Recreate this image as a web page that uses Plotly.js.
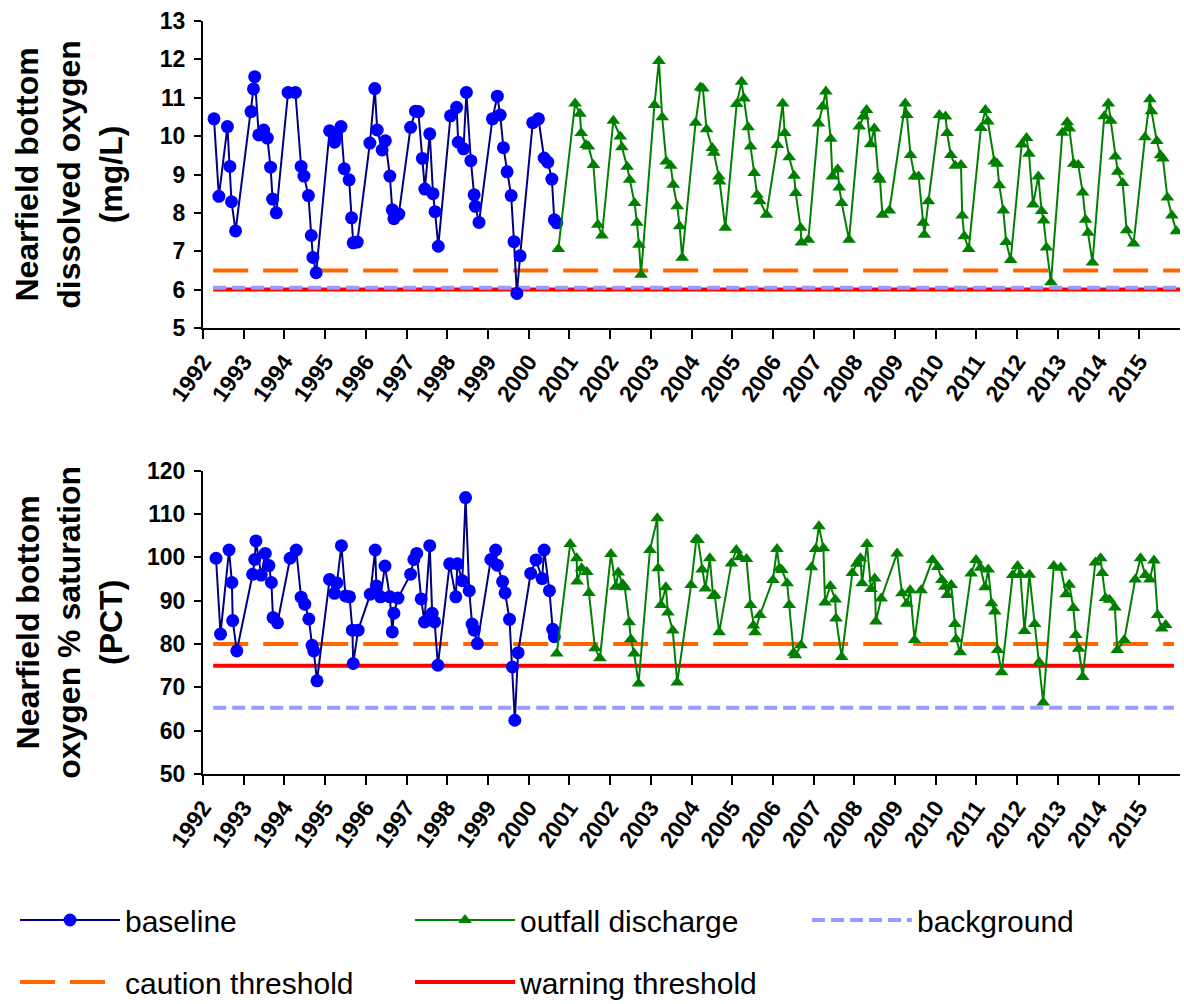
<!DOCTYPE html>
<html>
<head>
<meta charset="utf-8">
<script src="https://cdn.plot.ly/plotly-3.0.1.min.js"></script>
<style>html,body{margin:0;padding:0;background:#fff;}#chart{width:1184px;height:1004px;}</style>
</head>
<body>
<div id="chart"></div>
<script>
// ---- Tick labels ----
const yearTicks = [1992,1993,1994,1995,1996,1997,1998,1999,2000,2001,2002,2003,2004,2005,2006,2007,2008,2009,2010,2011,2012,2013,2014,2015];
const yearLabels = yearTicks.map(String);

// ---- Dissolved oxygen (mg/L): baseline ----
const doBaseDate = [1992.27,1992.39,1992.60,1992.66,1992.70,1992.80,1993.18,1993.24,1993.27,1993.37,1993.49,1993.58,1993.66,1993.71,1993.80,
1994.09,1994.27,1994.41,1994.48,1994.59,1994.66,1994.70,1994.78,1995.11,1995.23,1995.28,1995.39,1995.47,1995.59,1995.65,1995.69,1995.79,
1996.10,1996.22,1996.28,1996.40,1996.48,1996.59,1996.65,1996.69,1996.81,1997.10,1997.22,1997.29,1997.39,1997.45,1997.57,1997.65,1997.70,1997.78,
1998.08,1998.23,1998.27,1998.40,1998.47,1998.58,1998.66,1998.69,1998.78,1999.11,1999.23,1999.30,1999.38,1999.47,1999.57,1999.64,1999.71,1999.79,
2000.10,2000.24,2000.38,2000.47,2000.57,2000.63,2000.69];
const doBaseVal = [10.45,8.43,10.25,9.21,8.29,7.53,10.64,11.23,11.55,10.03,10.16,9.95,9.19,8.36,8.00,
11.14,11.14,9.21,8.96,8.45,7.41,6.84,6.44,10.14,9.84,10.00,10.25,9.15,8.86,7.87,7.22,7.24,
9.82,11.24,10.16,9.64,9.88,8.96,8.08,7.85,7.97,10.23,10.65,10.64,9.42,8.62,10.06,8.50,8.03,7.13,
10.53,10.75,9.84,9.67,11.14,9.36,8.47,8.17,7.75,10.45,11.04,10.55,9.70,9.07,8.45,7.25,5.90,6.88,
10.35,10.45,9.43,9.32,8.88,7.82,7.74];

// ---- Dissolved oxygen (mg/L): outfall discharge ----
const doOutDate = [2000.73,2001.14,2001.26,2001.29,2001.41,2001.47,2001.59,2001.70,2001.80,
2002.08,2002.25,2002.29,2002.42,2002.48,2002.60,2002.66,2002.71,2002.76,
2003.09,2003.20,2003.28,2003.38,2003.49,2003.55,2003.65,2003.71,2003.77,
2004.10,2004.22,2004.28,2004.37,2004.51,2004.55,2004.67,2004.69,2004.83,
2005.11,2005.23,2005.29,2005.39,2005.45,2005.54,2005.61,2005.68,2005.84,
2006.11,2006.24,2006.29,2006.40,2006.52,2006.56,2006.68,2006.70,2006.87,
2007.12,2007.22,2007.30,2007.42,2007.46,2007.59,2007.63,2007.69,2007.87,
2008.12,2008.22,2008.30,2008.40,2008.49,2008.59,2008.63,2008.69,2008.86,
2009.25,2009.29,2009.38,2009.48,2009.58,2009.69,2009.72,2009.82,
2010.09,2010.24,2010.28,2010.37,2010.48,2010.62,2010.65,2010.70,2010.81,
2011.11,2011.22,2011.28,2011.44,2011.51,2011.56,2011.66,2011.73,2011.84,
2012.11,2012.23,2012.29,2012.39,2012.52,2012.60,2012.65,2012.72,2012.83,
2013.11,2013.23,2013.28,2013.39,2013.50,2013.61,2013.68,2013.74,2013.85,
2014.14,2014.24,2014.30,2014.41,2014.47,2014.59,2014.69,2014.86,
2015.14,2015.26,2015.30,2015.43,2015.52,2015.58,2015.69,2015.80,2015.91];
const doOutVal = [7.06,10.85,10.58,10.08,9.77,9.73,9.25,7.69,7.41,
10.40,9.99,9.71,9.20,8.86,8.26,7.74,7.17,6.39,
10.81,11.96,10.49,9.34,9.23,8.73,8.17,7.65,6.83,
10.35,11.27,11.24,10.18,9.69,9.57,8.95,8.82,7.61,
10.84,11.42,10.98,10.23,9.73,9.04,8.47,8.30,7.95,
9.77,10.85,10.08,9.45,8.97,8.52,7.61,7.23,7.30,
10.33,10.77,11.16,9.93,8.95,9.14,8.66,8.26,7.30,
10.25,10.51,10.68,9.79,10.20,8.95,8.86,7.95,8.06,
10.85,10.55,9.51,8.95,8.95,7.74,7.43,8.30,
10.55,10.51,10.08,9.51,9.23,9.25,7.93,7.39,7.06,
10.21,10.68,10.38,9.34,9.28,8.72,8.06,7.24,6.77,
9.78,9.95,9.54,8.22,8.95,8.05,7.80,7.10,6.19,
10.09,10.36,10.20,9.28,9.25,8.53,7.82,7.48,6.71,
10.52,10.85,10.40,9.47,9.07,8.78,7.55,7.20,
9.97,10.96,10.65,9.87,9.50,9.42,8.40,7.93,7.52];

// ---- Oxygen % saturation: baseline ----
const satBaseDate = [1992.32,1992.43,1992.64,1992.71,1992.73,1992.83,1993.22,1993.27,1993.30,1993.43,1993.53,1993.62,1993.68,1993.72,1993.83,
1994.14,1994.29,1994.41,1994.50,1994.60,1994.68,1994.72,1994.80,1995.11,1995.23,1995.29,1995.40,1995.50,1995.60,1995.67,1995.69,1995.81,
1996.11,1996.23,1996.26,1996.36,1996.47,1996.59,1996.65,1996.69,1996.79,1997.10,1997.18,1997.25,1997.36,1997.44,1997.57,1997.63,1997.69,1997.77,
1998.06,1998.21,1998.25,1998.37,1998.45,1998.54,1998.61,1998.66,1998.74,1999.07,1999.19,1999.23,1999.36,1999.42,1999.53,1999.60,1999.66,1999.74,
2000.05,2000.18,2000.33,2000.38,2000.51,2000.59,2000.63];
const satBaseVal = [99.8,82.3,101.7,94.2,85.4,78.4,96.1,99.5,103.8,95.9,100.9,98.1,94.2,86.1,84.9,
99.8,101.7,90.8,89.2,85.8,79.7,78.4,71.5,94.9,91.7,94.1,102.7,91.1,90.9,83.2,75.5,83.2,
91.5,101.7,93.4,90.9,98.0,90.9,82.8,87.1,90.6,96.1,99.5,100.9,90.4,85.1,102.7,87.1,85.1,75.1,
98.5,90.9,98.5,94.6,113.8,92.3,84.6,83.2,80.1,99.5,101.7,98.2,94.4,91.8,85.7,74.7,62.4,78.0,
96.3,99.4,95.1,101.7,92.3,83.4,81.7];

// ---- Oxygen % saturation: outfall discharge ----
const satOutDate = [2000.69,2001.02,2001.18,2001.19,2001.30,2001.43,2001.48,2001.63,2001.75,
2002.02,2002.14,2002.20,2002.31,2002.36,2002.47,2002.51,2002.59,2002.70,
2002.98,2003.16,2003.18,2003.25,2003.37,2003.42,2003.54,2003.65,
2003.99,2004.12,2004.16,2004.26,2004.34,2004.45,2004.53,2004.57,2004.68,
2004.98,2005.10,2005.19,2005.35,2005.45,2005.52,2005.56,2005.68,
2006.00,2006.10,2006.16,2006.22,2006.35,2006.40,2006.51,2006.55,2006.69,
2006.95,2007.05,2007.13,2007.24,2007.28,2007.41,2007.53,2007.55,2007.69,
2007.95,2008.06,2008.15,2008.19,2008.31,2008.41,2008.50,2008.53,2008.66,
2009.05,2009.17,2009.29,2009.37,2009.48,2009.64,
2009.92,2010.05,2010.15,2010.22,2010.28,2010.38,2010.47,2010.50,2010.60,
2010.87,2010.99,2011.10,2011.21,2011.29,2011.37,2011.45,2011.52,2011.62,
2011.89,2012.01,2012.08,2012.18,2012.30,2012.43,2012.54,2012.64,
2012.90,2013.07,2013.20,2013.28,2013.38,2013.44,2013.51,2013.61,
2013.92,2014.05,2014.09,2014.17,2014.27,2014.40,2014.46,2014.63,
2014.90,2015.03,2015.15,2015.26,2015.36,2015.45,2015.55,2015.65];
const satOutVal = [77.8,103.1,99.8,94.4,97.5,96.6,91.8,79.0,76.7,
100.8,93.2,96.5,93.8,93.1,85.0,81.1,77.8,70.9,
101.7,109.0,97.5,89.0,93.1,87.3,83.1,71.1,
93.6,104.2,104.0,97.2,92.8,99.8,91.1,91.3,82.7,
98.6,101.7,100.0,99.6,89.0,84.3,82.7,86.7,
94.8,101.9,97.5,97.1,94.0,89.0,78.0,77.4,79.7,
97.7,101.9,107.2,102.1,89.6,93.4,90.3,85.9,77.0,
96.4,98.5,99.8,94.0,103.1,92.7,95.1,85.2,90.5,
100.9,91.7,89.3,92.4,80.9,92.4,
99.4,97.8,94.8,93.2,91.3,93.6,84.6,81.1,78.1,
96.3,99.4,97.6,93.1,97.2,89.4,87.5,78.6,73.5,
95.9,98.0,96.0,83.0,96.0,84.6,75.8,66.5,
98.0,97.6,91.5,93.7,88.3,82.1,78.9,72.4,
98.8,99.8,96.4,90.6,90.2,88.4,78.6,80.9,
94.9,99.8,95.9,94.9,99.3,86.7,83.6,84.4];

// ---- Thresholds ----
const doThreshDate = [1992.25, 2016.0];
const satThreshDate = [1992.25, 2015.85];
const doBackground = 6.05, doCaution = 6.5, doWarning = 6.0;
const satBackground = 65.3, satCaution = 80, satWarning = 75;

const FONT = "Liberation Sans, Arial, sans-serif";
const C_NAVY = '#000080', C_BLUE = '#0000FF', C_GREEN = '#008000';
const C_BG = '#9999FF', C_CAU = '#FF6600', C_WARN = '#FF0000';

function flat(dates, v){ return dates.map(()=>v); }

function panel(xa, ya, bDate, bVal, oDate, oVal, tDate, bg, cau, warn, legendOn){
  return [
    {x:tDate, y:flat(tDate,warn), xaxis:xa, yaxis:ya, mode:'lines', name:'warning threshold',
     line:{color:C_WARN,width:4}, showlegend:legendOn, legend:'legend5', hoverinfo:'skip'},
    {x:tDate, y:flat(tDate,bg), xaxis:xa, yaxis:ya, mode:'lines', name:'background',
     line:{color:C_BG,width:4,dash:'13px,6px'}, showlegend:legendOn, legend:'legend3', hoverinfo:'skip'},
    {x:tDate, y:flat(tDate,cau), xaxis:xa, yaxis:ya, mode:'lines', name:'caution threshold',
     line:{color:C_CAU,width:4,dash:'35px,15px'}, showlegend:legendOn, legend:'legend4', hoverinfo:'skip'},
    {x:bDate, y:bVal, xaxis:xa, yaxis:ya, mode:'lines+markers', name:'baseline',
     line:{color:C_NAVY,width:2}, marker:{symbol:'circle',size:13,color:C_BLUE},
     showlegend:legendOn, legend:'legend'},
    {x:oDate, y:oVal, xaxis:xa, yaxis:ya, mode:'lines+markers', name:'outfall discharge',
     line:{color:C_GREEN,width:2}, marker:{symbol:'triangle-up',size:12,color:C_GREEN},
     showlegend:legendOn, legend:'legend2'}
  ];
}

const data = [].concat(
  panel('x','y', doBaseDate, doBaseVal, doOutDate, doOutVal, doThreshDate, doBackground, doCaution, doWarning, true),
  panel('x2','y2', satBaseDate, satBaseVal, satOutDate, satOutVal, satThreshDate, satBackground, satCaution, satWarning, false)
);

function xAxis(anchor){
  return {anchor:anchor, range:[1992,2016], tickmode:'array', tickvals:yearTicks, ticktext:yearLabels,
    tickangle:-55, tickfont:{family:FONT,size:23,color:'#000',weight:'bold'},
    showline:true, linecolor:'#000', linewidth:2, ticks:'outside', ticklen:9, tickwidth:2, tickcolor:'#000',
    showgrid:false, zeroline:false, fixedrange:true};
}
function yAxis(anchor, domain, range, dtick, title, standoff){
  return {anchor:anchor, domain:domain, range:range, dtick:dtick, tick0:range[0],
    tickfont:{family:FONT,size:23,color:'#000',weight:'bold'},
    showline:true, linecolor:'#000', linewidth:2, ticks:'outside', ticklen:7, tickwidth:2, tickcolor:'#000',
    showgrid:false, zeroline:false, fixedrange:true, ticklabelstandoff:4,
    title:{text:title, font:{family:FONT,size:32,color:'#000',weight:'bold'}, standoff:standoff}};
}
function leg(x, y){
  return {xref:'container', yref:'container', x:x/1184, y:1-y/1004, xanchor:'left', yanchor:'middle',
    orientation:'h', itemwidth:100, font:{family:FONT,size:30,color:'#000'}, bgcolor:'rgba(0,0,0,0)', borderwidth:0};
}

const layout = {
  width:1184, height:1004,
  paper_bgcolor:'#fff', plot_bgcolor:'#fff',
  margin:{l:203, r:4, t:21, b:230},
  showlegend:true,
  xaxis: xAxis('y'),
  xaxis2: xAxis('y2'),
  yaxis: yAxis('x', [0.5923,1], [5,13], 1, 'Nearfield bottom<br>dissolved oxygen<br>(mg/L)', 28),
  yaxis2: yAxis('x2', [0,0.4028], [50,120], 10, 'Nearfield bottom<br>oxygen % saturation<br>(PCT)', 15),
  legend: leg(15, 920),
  legend2: leg(410, 920),
  legend3: leg(807, 920),
  legend4: leg(15, 982),
  legend5: leg(410, 982)
};

Plotly.newPlot('chart', data, layout, {staticPlot:true, displayModeBar:false});
</script>
</body>
</html>
